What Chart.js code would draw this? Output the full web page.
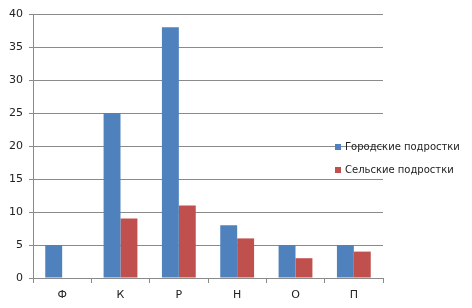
<!DOCTYPE html>
<html>
<head>
<meta charset="utf-8">
<script src="https://cdn.jsdelivr.net/npm/chart.js@4/dist/chart.umd.min.js"></script>
<style>
  html, body { margin: 0; padding: 0; background: #fff; }
  #wrap { width: 472px; height: 308px; }
</style>
</head>
<body>
<div id="wrap"><canvas id="grafico" width="472" height="308"></canvas></div>
<script>
// datos
const categorias = ['Ф', 'К', 'Р', 'Н', 'О', 'П'];
const gorodskie = [5, 25, 38, 8, 5, 5];
const selskie = [0, 9, 11, 6, 3, 4];
const nombresSeries = ['Городские подростки', 'Сельские подростки'];
const ticksY = [0, 5, 10, 15, 20, 25, 30, 35, 40];

const colorGrid = '#8a8a8a';
const fuente = "'DejaVu Sans', sans-serif";

// leyenda dibujada a mano, encima del area del grafico
const leyendaPlugin = {
    id: 'leyendaDerecha',
    afterDraw(chart) {
        const ctx = chart.ctx;
        const x = 335;
        const filas = [147, 170];
        ctx.save();
        ctx.font = '10px ' + fuente;
        ctx.textBaseline = 'middle';
        chart.data.datasets.forEach((ds, i) => {
            const y = filas[i];
            ctx.fillStyle = ds.backgroundColor;
            ctx.fillRect(x, y - 3, 6, 6);
            ctx.fillStyle = '#222';
            ctx.fillText(ds.label, x + 10, y);
        });
        ctx.restore();
    }
};

new Chart(document.getElementById('grafico'), {
    type: 'bar',
    data: {
        labels: categorias,
        datasets: [
            { label: nombresSeries[0], data: gorodskie, backgroundColor: '#4F81BD' },
            { label: nombresSeries[1], data: selskie, backgroundColor: '#C0504D' }
        ]
    },
    options: {
        responsive: false,
        animation: false,
        layout: { padding: { top: 14, right: 89, left: 0, bottom: 0 } },
        categoryPercentage: 0.58,
        barPercentage: 1,
        plugins: {
            legend: { display: false },
            tooltip: { enabled: false }
        },
        scales: {
            x: {
                grid: { drawOnChartArea: false, drawTicks: true, tickLength: 5, color: colorGrid },
                border: { display: true, color: colorGrid },
                ticks: { color: '#222', font: { family: fuente, size: 11 }, padding: 6 },
                afterFit: s => { s.height = 30; }
            },
            y: {
                min: 0,
                max: 40,
                afterBuildTicks: s => { s.ticks = ticksY.map(v => ({ value: v })); },
                grid: { color: colorGrid, tickLength: 4 },
                border: { display: true, color: colorGrid },
                ticks: { color: '#222', font: { family: fuente, size: 11 }, padding: 6 },
                afterFit: s => { s.width = 33; }
            }
        }
    },
    plugins: [leyendaPlugin]
});
</script>
</body>
</html>
